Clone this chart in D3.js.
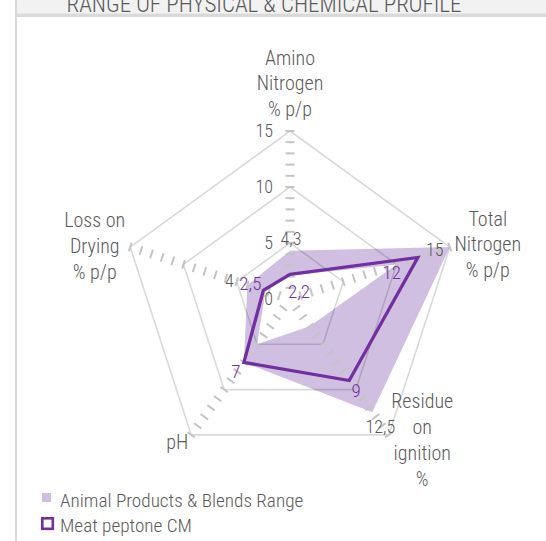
<!DOCTYPE html>
<html>
<head>
<meta charset="utf-8">
<script src="https://cdn.jsdelivr.net/npm/d3@7"></script>
<style>
  body { margin: 0; background: #fff; }
  text { font-family: "Liberation Sans Narrow", "Arial Narrow", "Roboto Condensed", "DejaVu Sans Condensed", sans-serif; font-weight: 300; }
</style>
</head>
<body>
<div id="vis"></div>
<script>
// radar of physical & chemical profile, one 0-15 scale shared by all axes

var title = "RANGE OF PHYSICAL & CHEMICAL PROFILE";

// category labels (one entry per line of text)
var categories = [
  ["Amino", "Nitrogen", "% p/p"],
  ["Total", "Nitrogen", "% p/p"],
  ["Residue", "on", "ignition", "%"],
  ["pH"],
  ["Loss on", "Drying", "% p/p"]
];

// series values, same order as categories
var rangeMax = [4.3, 15, 12.5, 7, 4];
var rangeMin = [2.1, 10, 3, 5, 2.3];
var meatPeptone = [2.2, 12, 9, 7, 2.5];

// which max values carry a data label
var maxLabelShown = [true, true, true, false, true];

var seriesNames = ["Animal Products & Blends Range", "Meat peptone CM"];

// axis values
var axisMax = 15;
var axisLabels = [0, 5, 10, 15];
var gridRings = [5, 10, 15];
var minorTicks = d3.range(1, 16);

/* layout */
var W = 546, H = 541;
var cx = 290, cy = 299, R = 168;

var purple = "#7030a0",
    lavender = "#d1bfe1",
    grey = "#595959";

// label offsets, [dx, dy] from the point they belong to
var catOffset = [[0, -66.5], [38, -21.5], [33.5, -26.5], [-14, 14], [-35.5, -20]];
var maxOffset = [[1, -12.5], [-15, 2], [8, 14], [0, 0], [-18, -5]];
var meatOffset = [[9, 17], [-26, 15], [7, 9.5], [-8, 9], [-13, -7]];

var svg = d3.select("#vis")
    .append("svg")
    .attr("width", W)
    .attr("height", H);

var r = d3.scaleLinear().domain([0, axisMax]).range([0, R]);

function angle(i) { return -Math.PI / 2 + i * 2 * Math.PI / categories.length; }
function pt(i, v) { return [cx + r(v) * Math.cos(angle(i)), cy + r(v) * Math.sin(angle(i))]; }
function fmt(v) { return d3.format("~g")(v).replace(".", ","); }

var line = d3.line().curve(d3.curveLinearClosed);

// frame: header band and left border
svg.append("rect").attr("x", 17).attr("y", 0).attr("width", W - 17).attr("height", 13.5).attr("fill", "#f2f2f2");
svg.append("rect").attr("x", 17).attr("y", 13.5).attr("width", W - 17).attr("height", 3.5).attr("fill", "#d9d9d9");
svg.append("line").attr("x1", 16).attr("x2", 16).attr("y1", 0).attr("y2", H)
    .attr("stroke", "#d9d9d9").attr("stroke-width", 2.2);

svg.append("text")
    .attr("x", 264)
    .attr("y", 12)
    .attr("text-anchor", "middle")
    .attr("font-size", 23)
    .attr("fill", grey)
    .text(title);

var g = svg.append("g");

// range = max polygon filled, min polygon cut out in white
g.append("path")
    .attr("d", line(rangeMax.map(function(v, i) { return pt(i, v); })))
    .attr("fill", lavender);

g.append("path")
    .attr("d", line(rangeMin.map(function(v, i) { return pt(i, v); })))
    .attr("fill", "#fff");

// grid rings drawn over the fills
g.selectAll(".ring")
    .data(gridRings)
    .enter().append("path")
      .attr("class", "ring")
      .attr("d", function(v) { return line(categories.map(function(c, i) { return pt(i, v); })); })
      .attr("fill", "none")
      .attr("stroke", "rgba(0,0,0,0.15)")
      .attr("stroke-width", 1.6);

// dashed ticks along each axis, perpendicular to it
categories.forEach(function(c, i) {
  var a = angle(i),
      px = -Math.sin(a) * 4.5,
      py = Math.cos(a) * 4.5;
  g.selectAll(".tick" + i)
    .data(minorTicks)
    .enter().append("line")
      .attr("x1", function(v) { return pt(i, v)[0] - px; })
      .attr("y1", function(v) { return pt(i, v)[1] - py; })
      .attr("x2", function(v) { return pt(i, v)[0] + px; })
      .attr("y2", function(v) { return pt(i, v)[1] + py; })
      .attr("stroke", "#c4c4c4")
      .attr("stroke-width", 2);
});

// meat peptone line
g.append("path")
    .attr("d", line(meatPeptone.map(function(v, i) { return pt(i, v); })))
    .attr("fill", "none")
    .attr("stroke", purple)
    .attr("stroke-width", 3.3)
    .attr("stroke-linejoin", "miter");

// axis value labels on the first axis
g.selectAll(".axlab")
    .data(axisLabels)
    .enter().append("text")
      .attr("x", function(v) { return pt(0, v)[0] - 17; })
      .attr("y", function(v) { return pt(0, v)[1]; })
      .attr("dy", "0.36em")
      .attr("text-anchor", "end")
      .attr("font-size", 18)
      .attr("fill", grey)
      .text(function(v) { return v; });

// data labels, range max
var maxLabels = rangeMax
    .map(function(v, i) { return {i: i, v: v}; })
    .filter(function(d) { return maxLabelShown[d.i]; });

g.selectAll(".maxlab")
    .data(maxLabels)
    .enter().append("text")
      .attr("x", function(d) { return pt(d.i, d.v)[0] + maxOffset[d.i][0]; })
      .attr("y", function(d) { return pt(d.i, d.v)[1] + maxOffset[d.i][1]; })
      .attr("dy", "0.36em")
      .attr("text-anchor", "middle")
      .attr("font-size", 18)
      .attr("fill", grey)
      .text(function(d) { return fmt(d.v); });

// data labels, meat peptone
g.selectAll(".meatlab")
    .data(meatPeptone)
    .enter().append("text")
      .attr("x", function(v, i) { return pt(i, v)[0] + meatOffset[i][0]; })
      .attr("y", function(v, i) { return pt(i, v)[1] + meatOffset[i][1]; })
      .attr("dy", "0.36em")
      .attr("text-anchor", "middle")
      .attr("font-size", 19)
      .attr("fill", purple)
      .text(function(v) { return fmt(v); });

// category labels
var cat = g.selectAll(".cat")
    .data(categories)
    .enter().append("text")
      .attr("class", "cat")
      .attr("text-anchor", "middle")
      .attr("font-size", 20)
      .attr("fill", grey)
      .attr("transform", function(d, i) {
        var p = pt(i, axisMax);
        return "translate(" + (p[0] + catOffset[i][0]) + "," + (p[1] + catOffset[i][1]) + ")";
      });

cat.selectAll("tspan")
    .data(function(d) { return d; })
    .enter().append("tspan")
      .attr("x", 0)
      .attr("y", function(d, k) { return k * 25.8; })
      .text(function(d) { return d; });

// legend
var legend = svg.append("g")
    .attr("font-size", 19.2)
    .attr("fill", grey);

legend.append("rect")
    .attr("x", 42).attr("y", 493).attr("width", 9).attr("height", 9)
    .attr("fill", lavender);
legend.append("rect")
    .attr("x", 42.3).attr("y", 518.3).attr("width", 10.5).attr("height", 10.5)
    .attr("fill", "none").attr("stroke", purple).attr("stroke-width", 2.6);

legend.selectAll("text")
    .data(seriesNames)
    .enter().append("text")
      .attr("x", 60)
      .attr("y", function(d, i) { return 507 + i * 24.5; })
      .text(function(d) { return d; });
</script>
</body>
</html>
